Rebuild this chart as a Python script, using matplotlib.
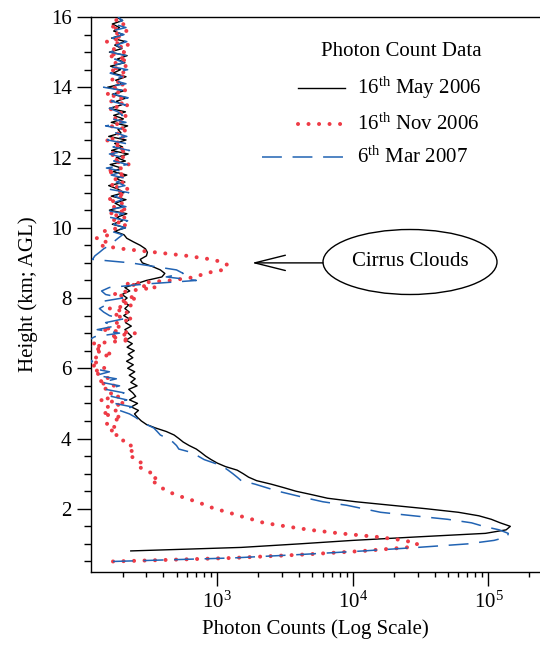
import numpy as np
import matplotlib
matplotlib.use("Agg")
import matplotlib.pyplot as plt
from matplotlib.lines import Line2D
from matplotlib.patches import Ellipse

plt.rcParams['font.family'] = ['Liberation Serif', 'DejaVu Serif']
plt.rcParams['mathtext.fontset'] = 'custom'
plt.rcParams['mathtext.rm'] = 'Liberation Serif'
plt.rcParams['mathtext.it'] = 'Liberation Serif:italic'
plt.rcParams['mathtext.bf'] = 'Liberation Serif:bold'

# ---------------- data (photon counts on a 0.1 km height grid) ----------------
step_km = 0.1

may_start = 0.8
may_2006 = [
    230, 1500, 4000, 10000, 30000, 95000, 135000, 145000, 122000, 105000,   # 0.8-1.7
    85000, 60000, 35000, 19000, 10500, 6500, 5000, 3800, 3100, 2500,        # 1.8-2.7
    1950, 1700, 1550, 1400, 1150, 1000, 900, 820, 760, 700,                 # 2.8-3.7
    620, 560, 520, 480, 420, 350, 300, 275, 258, 245,                       # 3.8-4.7
    262, 232, 258, 225, 250, 238, 222, 256, 230, 248,                       # 4.8-5.7
    224, 246, 218, 240, 214, 238, 220, 244, 216, 236,                       # 5.8-6.7
    212, 234, 220, 208, 232, 210, 226, 204, 224, 208,                       # 6.8-7.7
    222, 200, 216, 198, 226, 208, 250, 300, 390, 410,                       # 7.8-8.7
    380, 330, 280, 270, 300, 305, 295, 270, 240, 215,                       # 8.8-9.7
    205, 175, 210, 168, 200, 182, 215, 160, 198, 176,                       # 9.8-10.7
    212, 165, 205, 185, 158, 208, 178, 215, 170, 196,                       # 10.8-11.7
    162, 210, 180, 220, 166, 200, 175, 212, 158, 195,                       # 11.8-12.7
    185, 218, 165, 203, 172, 210, 160, 198, 180, 215,                       # 12.8-13.7
    168, 205, 155, 200, 178, 212, 170, 193, 163, 208,                       # 13.8-14.7
    182, 216, 160, 198, 175, 210, 166, 202, 172, 190,                       # 14.8-15.7
    168, 200, 180,                                                          # 15.8-16.0
]

nov_start = 0.5
nov_2006 = [
    170, 1300, 4500, 12000, 25000, 30000, 24000, 15000, 8000, 4800,         # 0.5-1.4
    3200, 2200, 1800, 1450, 1200, 960, 820, 710, 580, 500,                  # 1.5-2.4
    420, 390, 370, 320, 360, 330, 300, 260, 280, 240,                       # 2.5-3.4
    235, 250, 215, 230, 200, 205, 180, 160, 185, 150,                       # 3.5-4.4
    170, 200, 140, 180, 155, 210, 135, 190, 160, 145,                       # 4.5-5.4
    175, 130, 160, 140, 120, 150, 115, 135, 125, 170,                       # 5.5-6.4
    122, 145, 118, 230, 160, 250, 140, 200, 180, 240,                       # 6.5-7.4
    170, 220, 160, 240, 190, 260, 170, 220, 350, 210,                       # 7.5-8.4
    450, 700, 800, 1100, 1200, 1150, 900, 600, 350, 200,                    # 8.5-9.4
    135, 150, 128, 160, 145, 190, 215, 165, 210, 158,                       # 9.5-10.4
    220, 170, 200, 152, 212, 178, 222, 160, 205, 172,                       # 10.5-11.4
    215, 150, 198, 225, 168, 208, 155, 218, 175, 200,                       # 11.5-12.4
    148, 210, 180, 222, 160, 205, 170, 220, 185, 158,                       # 12.5-13.4
    225, 165, 200, 150, 215, 172, 210, 162, 198, 218,                       # 13.5-14.4
    160, 212, 175, 220, 155, 205, 168, 225, 152, 200,                       # 14.5-15.4
    170, 215, 160, 205, 178, 198,                                           # 15.5-16.0
]

mar_start = 0.5
mar_2007 = [
    170, 1300, 4200, 12000, 30000, 70000, 110000, 138000, 140000, 120000,   # 0.5-1.4
    92000, 75000, 50000, 28000, 16000, 12000, 9000, 6000, 4600, 3600,       # 1.5-2.4
    2800, 2300, 1900, 1500, 1400, 1300, 1200, 1100, 950, 800,               # 2.5-3.4
    720, 650, 520, 500, 470, 430, 380, 360, 340, 300,                       # 3.5-4.4
    270, 250, 225, 190, 235, 175, 215, 165, 205, 150,                       # 4.5-5.4
    190, 140, 180, 128, 160, 118, 112, 120, 108, 115,                       # 5.5-6.4
    110, 118, 106, 112, 125, 190, 130, 175, 150, 200,                       # 6.5-7.4
    160, 145, 135, 150, 140, 200, 150, 140, 160, 300,                       # 7.5-8.4
    700, 420, 560, 500, 340, 230, 120, 125, 135, 145,                       # 8.5-9.4
    160, 172, 185, 200, 165, 210, 172, 218, 160, 205,                       # 9.5-10.4
    150, 212, 168, 200, 175, 222, 158, 208, 180, 215,                       # 10.5-11.4
    165, 205, 152, 218, 172, 200, 160, 225, 170, 210,                       # 11.5-12.4
    155, 215, 178, 205, 150, 212, 168, 200, 185, 160,                       # 12.5-13.4
    210, 165, 220, 172, 205, 145, 212, 170, 200, 162,                       # 13.5-14.4
    218, 158, 205, 175, 212, 162, 200, 180, 215, 168,                       # 14.5-15.4
    205, 165, 212, 172, 200, 185,                                           # 15.5-16.0
]

series_labels = ["16$^{\\mathrm{th}}$ May 2006",
                 "16$^{\\mathrm{th}}$ Nov 2006",
                 "6$^{\\mathrm{th}}$ Mar 2007"]
legend_title = "Photon Count Data"
annotation_text = "Cirrus Clouds"
annotation_height = 9.0
annotation_counts = 1800
x_label = "Photon Counts (Log Scale)"
y_label = "Height (km; AGL)"


def heights(start, values):
    return np.round(start + step_km * np.arange(len(values)), 3)


# ---------------- figure ----------------
W, H = 540, 650
FS = 15
fig = plt.figure(figsize=(W / 100, H / 100), dpi=100)
ax = fig.add_axes([91 / W, 1 - 572 / H, 449 / W, 555 / H])

BLACK = "#000000"
RED = "#ee3b46"
BLUE = "#2163b3"

ax.plot(may_2006, heights(may_start, may_2006), color=BLACK, lw=1.0, zorder=2)
ax.plot(nov_2006, heights(nov_start, nov_2006), color=RED, lw=2.9,
        linestyle=(0, (0.01, 2.6)), dash_capstyle='round', zorder=3)
ax.plot(mar_2007, heights(mar_start, mar_2007), color=BLUE, lw=1.1,
        dashes=(13, 7), zorder=4)

ax.set_xscale('log')
ax.set_xlim(117, 2.4e5)
ax.set_ylim(0.2, 16)
ax.set_yticks(np.arange(2, 17, 2))
ax.set_yticks(np.arange(0.5, 16.01, 0.5), minor=True)

ax.spines['right'].set_visible(False)
for s in ['left', 'bottom', 'top']:
    ax.spines[s].set_linewidth(1.0)

ax.tick_params(axis='both', which='major', labelsize=FS, width=1.0, direction='out')
ax.tick_params(axis='y', which='major', length=10, pad=4)
ax.tick_params(axis='y', which='minor', length=5, width=1.0)
ax.tick_params(axis='x', which='major', length=10, pad=4)
ax.tick_params(axis='x', which='minor', length=3.5, width=1.0)
ax.tick_params(top=False, right=False, which='both')

ax.set_xlabel(x_label, fontsize=FS, labelpad=5)
ax.set_ylabel(y_label, fontsize=FS, labelpad=9)

# ---------------- legend (drawn manually to match) ----------------
def fx(px):
    return px / W


def fy(py):
    return 1 - py / H


fig.text(fx(401), fy(52), legend_title, fontsize=FS, ha='center', va='center')
rows = [88, 124, 157]
styles = [
    dict(color=BLACK, lw=1.0, x0=298),
    dict(color=RED, lw=2.9, linestyle=(0, (0.01, 2.6)), dash_capstyle='round', x0=298),
    dict(color=BLUE, lw=1.1, dashes=(13, 7), x0=262),
]
for lbl, py, st in zip(series_labels, rows, styles):
    st = dict(st)
    x0 = st.pop('x0')
    fig.add_artist(Line2D([fx(x0), fx(345)], [fy(py), fy(py)], **st))
    fig.text(fx(357), fy(py), lbl, fontsize=FS, ha='left', va='center')

# ---------------- annotation ----------------
ell_cx, ell_cy = (410 - 91) / 449, 1 - (262 - 17) / 555
ell = Ellipse((ell_cx, ell_cy), 174 / 449, 65 / 555, transform=ax.transAxes,
              facecolor='white', edgecolor='black', lw=1.0, zorder=6)
ax.add_patch(ell)
ax.text(ell_cx, ell_cy, annotation_text, transform=ax.transAxes, fontsize=FS,
        ha='center', va='center', zorder=7)
ax.annotate('', xy=(annotation_counts, annotation_height), xycoords='data',
            xytext=(ell_cx - 87 / 449, annotation_height), textcoords=('axes fraction', 'data'),
            arrowprops=dict(arrowstyle='->,head_length=2.2,head_width=0.55',
                            mutation_scale=10, lw=1.0, color='black',
                            shrinkA=0, shrinkB=0), zorder=6)

fig.savefig("out.png", dpi=100)
